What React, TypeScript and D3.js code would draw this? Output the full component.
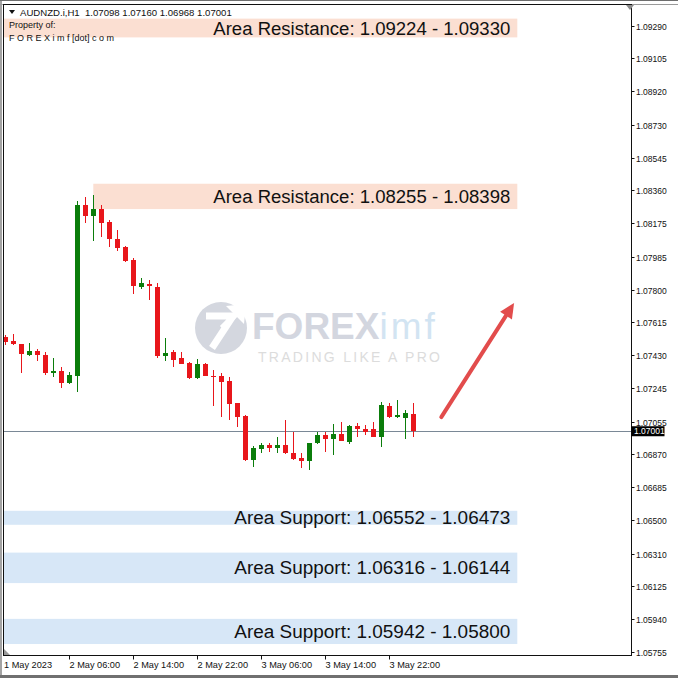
import React from "react";
import * as d3 from "d3";

// ---------- data ----------
const symbolName = "AUDNZD.i,H1";
const headerOHLC = ["1.07098", "1.07160", "1.06968", "1.07001"];
const firstBarTime = "2023-05-01T22:00:00Z";

const opens = [
  1.07535, 1.07512, 1.07493, 1.0743, 1.07456, 1.0743, 1.0733, 1.07343, 1.07275, 1.07313,
  1.08278, 1.08218, 1.08255, 1.08184, 1.08084, 1.08043, 1.07967, 1.07817, 1.0783, 1.07817,
  1.07426, 1.07447, 1.07413, 1.07388, 1.073, 1.07381, 1.07313, 1.0731, 1.07284, 1.07159,
  1.07087, 1.06839, 1.06901, 1.06925, 1.06908, 1.06922, 1.06876, 1.0685, 1.06831, 1.06933,
  1.0698, 1.06959, 1.06985, 1.06942, 1.07031, 1.07012, 1.07012, 1.0697, 1.07145, 1.0708,
  1.07074, 1.07098,
];
const highs = [
  1.07544, 1.0755, 1.07495, 1.07501, 1.07463, 1.0745, 1.07414, 1.07362, 1.07337, 1.08302,
  1.08321, 1.08334, 1.0828, 1.08193, 1.08137, 1.08047, 1.07977, 1.07864, 1.07853, 1.07839,
  1.07526, 1.0746, 1.0745, 1.07392, 1.07407, 1.07386, 1.07347, 1.07328, 1.07309, 1.07161,
  1.0709, 1.06918, 1.06936, 1.06936, 1.0697, 1.07064, 1.06998, 1.06876, 1.06935, 1.06998,
  1.06998, 1.07042, 1.07055, 1.07036, 1.07046, 1.07036, 1.07055, 1.07168, 1.07159, 1.07177,
  1.07121, 1.0716,
];
const lows = [
  1.0749, 1.0749, 1.07328, 1.07428, 1.07399, 1.07318, 1.07309, 1.07243, 1.0727, 1.07224,
  1.08175, 1.08076, 1.08099, 1.08043, 1.0802, 1.07958, 1.07776, 1.07802, 1.07742, 1.07413,
  1.07399, 1.07365, 1.07378, 1.07297, 1.07297, 1.0731, 1.07143, 1.07083, 1.07064, 1.07027,
  1.06833, 1.06801, 1.06876, 1.06886, 1.06876, 1.06873, 1.0684, 1.06792, 1.06782, 1.0693,
  1.06886, 1.06867, 1.06945, 1.0693, 1.0697, 1.0698, 1.06968, 1.06914, 1.07078, 1.07074,
  1.06956, 1.06968,
];
const closes = [
  1.07506, 1.07492, 1.07435, 1.07454, 1.0743, 1.0733, 1.07343, 1.07275, 1.07318, 1.08278,
  1.08218, 1.08255, 1.08178, 1.08084, 1.08037, 1.07964, 1.07821, 1.07838, 1.07819, 1.07426,
  1.07441, 1.07403, 1.07381, 1.073, 1.07379, 1.07313, 1.07307, 1.07281, 1.07153, 1.07083,
  1.06839, 1.06908, 1.06923, 1.06908, 1.06923, 1.06876, 1.06843, 1.06831, 1.06933, 1.0698,
  1.06959, 1.06985, 1.06948, 1.07032, 1.07012, 1.06998, 1.0697, 1.07149, 1.0708, 1.07093,
  1.07102, 1.07001,
];

const currentPrice = 1.07001;

const priceTicks = [
  1.0929, 1.09105, 1.0892, 1.0873, 1.08545, 1.0836, 1.08175, 1.07985, 1.078, 1.07615,
  1.0743, 1.07245, 1.07055, 1.0687, 1.06685, 1.065, 1.0631, 1.06125, 1.0594, 1.05755,
];

const timeTicks = [
  "2023-05-01T22:00:00Z", "2023-05-02T06:00:00Z", "2023-05-02T14:00:00Z",
  "2023-05-02T22:00:00Z", "2023-05-03T06:00:00Z", "2023-05-03T14:00:00Z",
  "2023-05-03T22:00:00Z",
];

const zoneLabels = [
  "Area Resistance: 1.09224 - 1.09330",
  "Area Resistance: 1.08255 - 1.08398",
  "Area Support: 1.06552 - 1.06473",
  "Area Support: 1.06316 - 1.06144",
  "Area Support: 1.05942 - 1.05800",
];
const zoneLow = [1.09224, 1.08255, 1.06473, 1.06144, 1.058];
const zoneHigh = [1.0933, 1.08398, 1.06552, 1.06316, 1.05942];
const zoneKind = ["res", "res", "sup", "sup", "sup"];
const zoneStartBar = [-2, 11, -2, -2, -2];
const zoneEndBar = [64, 64, 64, 64, 64];

const arrowBars = [54.5, 63.6];
const arrowPrices = [1.07081, 1.07725];

// ---------- layout ----------
const W = 678;
const H = 678;
const plotL = 3.5;
const plotT = 4.5;
const plotR = 631.5;
const plotB = 655.5;

const UP = "#0b7d0b";
const DOWN = "#e8161b";

export default function App() {
  const t0 = new Date(firstBarTime).getTime();
  const barTime = (i: number) => new Date(t0 + i * 3600e3);
  const n = opens.length;

  const x = d3.scaleUtc().domain([barTime(0), barTime(n - 1)]).range([5.3, 413.3]);
  const xb = (i: number) => x(barTime(i));
  const y = d3.scaleLinear().domain([1.05755, 1.0929]).range([652, 25.7]);

  const fmtFirst = d3.utcFormat("%-d %b %Y");
  const fmtOther = d3.utcFormat("%-d %b %H:%M");
  const fmtPrice = d3.format(".5f");

  const candles = opens.map((o, i) => ({ o, h: highs[i], l: lows[i], c: closes[i], i }));

  // arrow geometry
  const ax1 = xb(arrowBars[0]);
  const ay1 = y(arrowPrices[0]);
  const ax2 = xb(arrowBars[1]);
  const ay2 = y(arrowPrices[1]);
  const ang = Math.atan2(ay2 - ay1, ax2 - ax1);
  const headLen = 15;
  const headW = 7;
  const bx = ax2 - headLen * Math.cos(ang);
  const by = ay2 - headLen * Math.sin(ang);
  const px = -Math.sin(ang);
  const py = Math.cos(ang);

  const font = "'Liberation Sans', Arial, sans-serif";

  return (
    <svg
      width={W}
      height={H}
      viewBox={`0 0 ${W} ${H}`}
      style={{ position: "fixed", left: 0, top: 0, background: "#fff" }}
    >
      <rect x={0} y={0} width={W} height={H} fill="#ffffff" />
      <defs>
        <clipPath id="plotclip">
          <rect x={plotL} y={plotT} width={plotR - plotL} height={plotB - plotT} />
        </clipPath>
      </defs>

      {/* zones */}
      <g clipPath="url(#plotclip)">
        {zoneLabels.map((lab, k) => {
          const x1 = Math.max(plotL, xb(zoneStartBar[k]));
          const x2 = xb(zoneEndBar[k]);
          const yt = y(zoneHigh[k]);
          const yb = y(zoneLow[k]);
          return (
            <rect
              key={"z" + k}
              x={x1}
              y={yt}
              width={x2 - x1}
              height={yb - yt}
              fill={zoneKind[k] === "res" ? "#fbdfd2" : "#d7e7f7"}
            />
          );
        })}
      </g>

      {/* watermark */}
      <g>
        <circle cx={221} cy={328} r={26} fill="#d4d7df" />
        <path
          d="M206,316 L233,316 L212,348"
          fill="none"
          stroke="#ffffff"
          strokeWidth={7}
          strokeLinejoin="miter"
        />
        <polygon points="226,306 246,304 244,324" fill="#ffffff" />
        <path d="M238,312 L222,328" stroke="#ffffff" strokeWidth={6} />
        <text x={252} y={339} fontFamily={font} fontSize={37}>
          <tspan fontWeight="bold" fill="#d3d6df">FOREX</tspan>
          <tspan fill="#d2e4f2" letterSpacing={3}>imf</tspan>
        </text>
        <text
          x={258}
          y={362}
          fontFamily={font}
          fontSize={14}
          fill="#dcdcdc"
          textLength={182}
          lengthAdjust="spacing"
        >
          TRADING LIKE A PRO
        </text>
      </g>

      {/* current price line */}
      <line
        x1={plotL}
        x2={plotR}
        y1={Math.round(y(currentPrice)) + 0.5}
        y2={Math.round(y(currentPrice)) + 0.5}
        stroke="#7a8896"
        strokeWidth={1}
      />

      {/* candles */}
      <g clipPath="url(#plotclip)" shapeRendering="crispEdges">
        {candles.map((d) => {
          const cx = Math.round(xb(d.i));
          const col = d.c >= d.o ? UP : DOWN;
          const top = Math.min(y(d.o), y(d.c));
          const bot = Math.max(y(d.o), y(d.c));
          return (
            <g key={"c" + d.i}>
              <rect x={cx} y={y(d.h)} width={1} height={y(d.l) - y(d.h)} fill={col} />
              <rect x={cx - 2} y={top} width={5} height={Math.max(1, bot - top)} fill={col} />
            </g>
          );
        })}
      </g>

      {/* zone labels */}
      {zoneLabels.map((lab, k) => (
        <text
          key={"zl" + k}
          x={xb(zoneEndBar[k]) - 7}
          y={(y(zoneHigh[k]) + y(zoneLow[k])) / 2}
          textAnchor="end"
          dominantBaseline="central"
          fontFamily={font}
          fontSize={18.8}
          fill="#111"
          textLength={zoneKind[k] === "res" ? 297 : 276}
          lengthAdjust="spacingAndGlyphs"
        >
          {lab}
        </text>
      ))}

      {/* arrow */}
      <line x1={ax1} y1={ay1} x2={bx} y2={by} stroke="#e24c4c" strokeWidth={4} strokeLinecap="round" />
      <polygon
        points={`${ax2},${ay2} ${bx + px * headW},${by + py * headW} ${bx - px * headW},${by - py * headW}`}
        fill="#e24c4c"
      />

      {/* header */}
      <polygon points="9,10 15,10 12,14" fill="#111" />
      <text
        x={20}
        y={15.5}
        fontFamily={font}
        fontSize={9.6}
        fill="#111"
        style={{ whiteSpace: "pre" }}
      >
        {`${symbolName}  ${headerOHLC.join(" ")}`}
      </text>
      <text x={9} y={28} fontFamily={font} fontSize={9} fill="#111">
        Property of:
      </text>
      <text x={9} y={40.5} fontFamily={font} fontSize={9} fill="#111" style={{ whiteSpace: "pre" }}>
        F O R E X i m f [dot] c o m
      </text>

      {/* outer frame */}
      <rect x={0} y={0} width={2} height={H} fill="#a3a3a3" />
      <rect x={0} y={0} width={W} height={1} fill="#6e6e6e" />
      <rect x={0} y={675} width={W} height={3} fill="#707070" />
      <line x1={0} x2={W} y1={plotT} y2={plotT} stroke="#9a9a9a" />

      {/* plot border */}
      <rect
        x={plotL}
        y={plotT}
        width={plotR - plotL}
        height={plotB - plotT}
        fill="none"
        stroke="#111"
        strokeWidth={1}
        shapeRendering="crispEdges"
      />
      <polygon points="626,5 634,5 630,10" fill="#8a8a8a" />
      <polygon points="4,649 4,655 10,655" fill="#9a9a9a" />

      {/* price axis */}
      <g fontFamily={font} fontSize={8.5} fill="#111">
        {priceTicks.map((p) => {
          const yy = Math.round(y(p)) + 0.5;
          return (
            <g key={"p" + p}>
              <line x1={plotR} x2={plotR + 3} y1={yy} y2={yy} stroke="#111" />
              <text x={636} y={yy} dominantBaseline="central">
                {fmtPrice(p)}
              </text>
            </g>
          );
        })}
      </g>
      <rect x={plotR} y={y(currentPrice) - 5} width={33} height={10} fill="#000" />
      <text
        x={634}
        y={y(currentPrice)}
        dominantBaseline="central"
        fontFamily={font}
        fontSize={8.5}
        fill="#fff"
      >
        {fmtPrice(currentPrice)}
      </text>

      {/* time axis */}
      <g fontFamily={font} fontSize={9.2} fill="#111">
        {timeTicks.map((s, k) => {
          const d = new Date(s);
          const xx = Math.round(x(d)) + 0.5;
          return (
            <g key={"t" + k}>
              {k > 0 && <line x1={xx} x2={xx} y1={plotB} y2={plotB + 4} stroke="#111" />}
              <text x={k === 0 ? 4 : xx} y={665} dominantBaseline="central">
                {k === 0 ? fmtFirst(d) : fmtOther(d)}
              </text>
            </g>
          );
        })}
      </g>
    </svg>
  );
}
